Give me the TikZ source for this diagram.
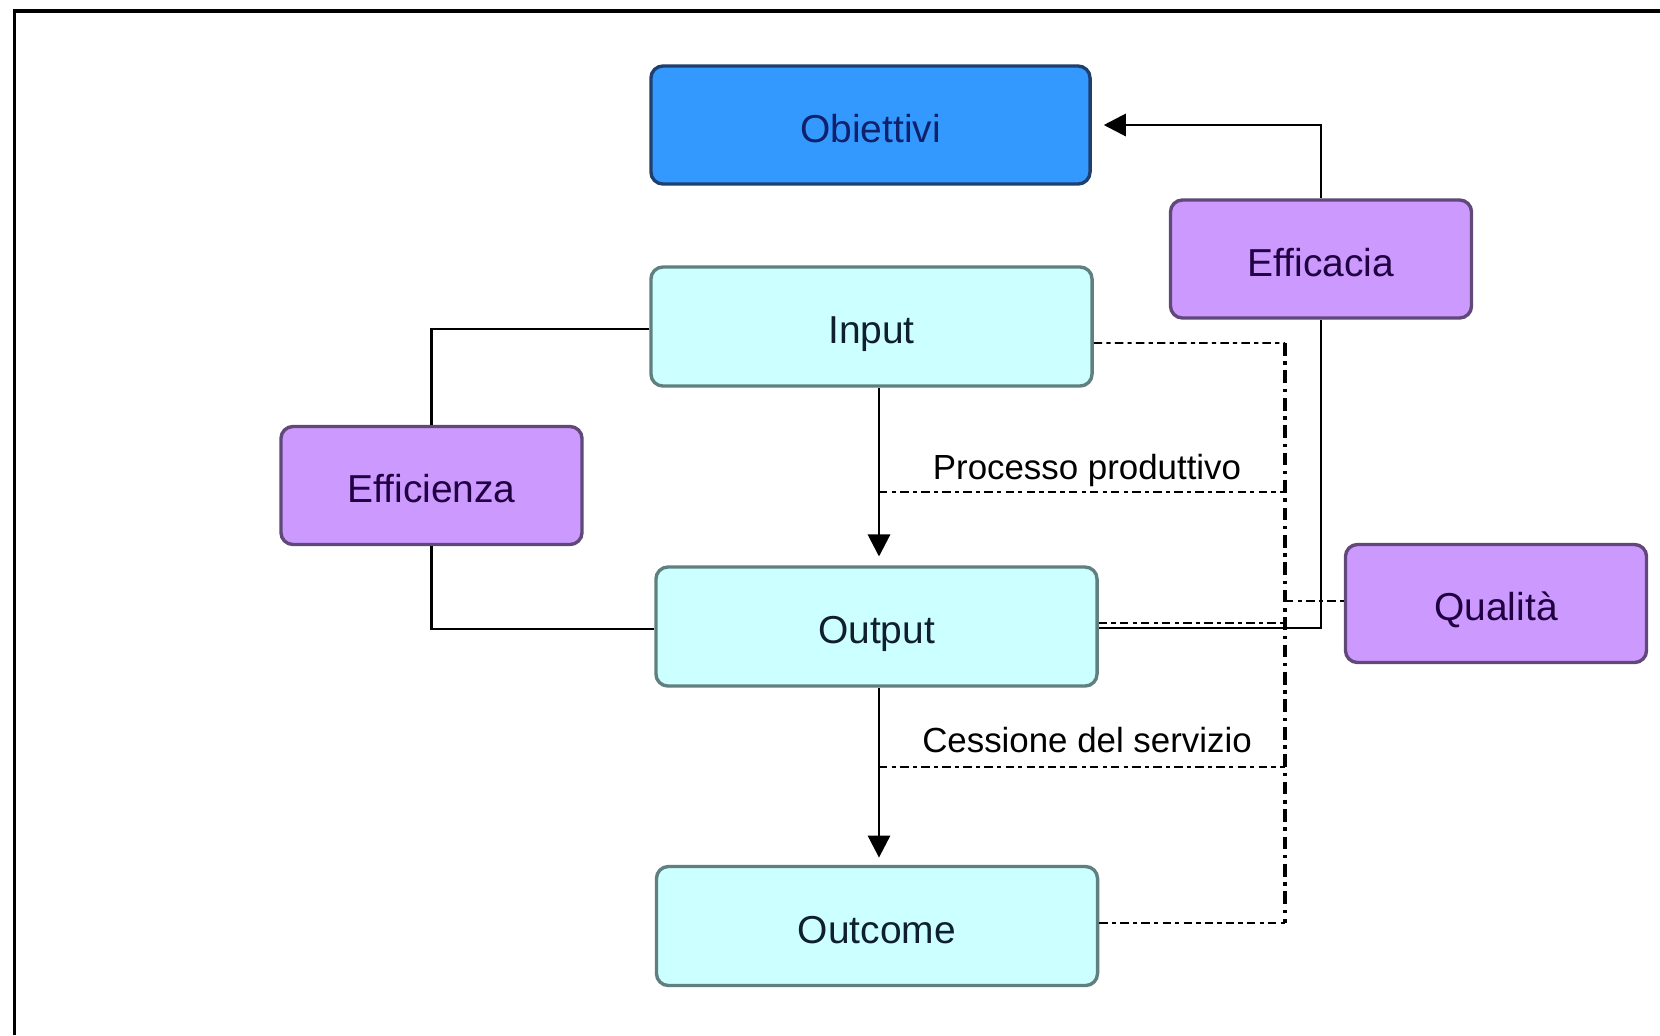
\documentclass[tikz,border=0pt]{standalone}
\usepackage{fontspec}
\setmainfont{Liberation Sans}
\usetikzlibrary{calc,arrows.meta}
\definecolor{objfill}{HTML}{3399FF}
\definecolor{objdraw}{HTML}{1F3F6F}
\definecolor{objtext}{HTML}{10206A}
\definecolor{cyanfill}{HTML}{CCFFFF}
\definecolor{cyandraw}{HTML}{607F7F}
\definecolor{cyantext}{HTML}{0F1F2F}
\definecolor{purfill}{HTML}{CC99FF}
\definecolor{purdraw}{HTML}{604878}
\definecolor{purtext}{HTML}{200040}
\begin{document}
\begin{tikzpicture}[x=0.025cm,y=-0.025cm,
  box/.style={rectangle, rounded corners=0.3cm, line width=2.4pt, inner sep=0pt,
    text height=24.5pt, text depth=0pt,
    font=\fontsize{27.7}{30}\selectfont},
  objbox/.style={box, fill=objfill, draw=objdraw, text=objtext,
    minimum width=10.975cm, minimum height=2.95cm},
  cyanbox/.style={box, fill=cyanfill, draw=cyandraw, text=cyantext,
    minimum width=11.025cm, minimum height=2.975cm},
  purbox/.style={box, fill=purfill, draw=purdraw, text=purtext,
    minimum width=7.525cm, minimum height=2.95cm},
  conn/.style={line width=2.1pt, black},
  arr/.style={conn, -{Triangle[length=0.55cm,width=0.55cm]}},
  dashline/.style={line width=1.4pt, black, dash pattern=on 6pt off 3pt on 3pt off 3pt},
  dashvert/.style={line width=2.3pt, black, dash pattern=on 9pt off 4pt on 2.5pt off 4pt},
  lbl/.style={font=\fontsize{24.8}{27}\selectfont, inner sep=0pt}
]
\useasboundingbox (0,0) rectangle (1660,1035);
\fill[white] (0,0) rectangle (1660,1035);
% frame (only top and left edges visible)
\draw[line width=2.4pt, black] (14.5,1035) -- (14.5,11) -- (1660,11);

% nodes
\node[objbox]  (obj) at (870.5,125)   {Obiettivi};
\node[cyanbox] (inp) at (871.5,326.5) {Input};
\node[cyanbox] (out) at (876.5,626.5) {Output};
\node[cyanbox] (outc) at (877,926)    {Outcome};
\node[purbox]  (effz) at (431.5,485.5) {Efficienza};
\node[purbox]  (effc) at (1321,259)   {Efficacia};
\node[purbox]  (qual) at (1496,603.5) {Qualità};

% Efficienza links
\draw[conn] ($(inp.west)+(0,2.5)$) -| (effz.north);
\draw[conn] (effz.south) |- ($(out.west)+(0,2.5)$);

% Efficacia links
\draw[arr, shorten >=0.3cm] (effc.north) |- (obj.east);
\draw[conn] (effc.south) |- ($(out.east)+(0,1.5)$);

% main arrows
\draw[arr, shorten >=0.22cm] ($(inp.south)+(7.5,0)$) coordinate (a1) -- (a1 |- out.north);
\draw[arr, shorten >=0.18cm] ($(out.south)+(2.5,0)$) coordinate (a2) -- (a2 |- outc.north);

% quality bracket
\coordinate (vtop) at (1285,343);
\coordinate (vbot) at (1285,923);
\draw[dashline] ($(inp.east)+(0,16.5)$) -- (vtop);
\draw[dashvert] (vtop) -- (vbot);
\draw[dashline] ($(out.east)+(0,-3.5)$) -- (1285,623);
\draw[dashline] ($(outc.east)+(0,-3)$) -- (vbot);
\draw[dashline] (1285,601) -- ($(qual.west)+(0,-2.5)$);

% process labels
\coordinate (p1) at (879,492);
\coordinate (p2) at (879,767);
\draw[dashline] (p1) -- (1285,492);
\draw[dashline] (p2) -- (1285,767);
\node[lbl] (lp) at (1087,470) {Processo produttivo};
\node[lbl] (lc) at (1087,740) {Cessione del servizio};
\end{tikzpicture}
\end{document}
